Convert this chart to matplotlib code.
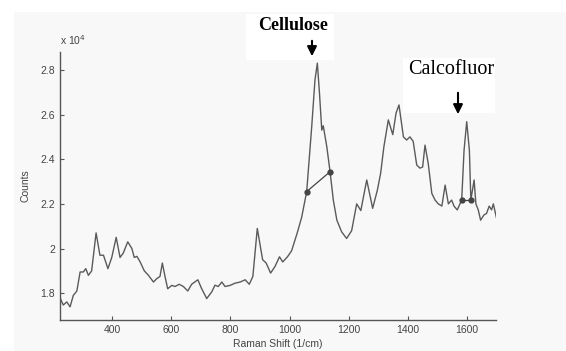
import matplotlib
matplotlib.use("Agg")
import matplotlib.pyplot as plt
from matplotlib.ticker import FuncFormatter

plt.rcParams["font.family"] = ["Liberation Sans", "DejaVu Sans"]

# Raman spectrum (counts in units of 1e4)
shift = [224, 235, 247, 258, 269, 281, 292, 303, 311, 320, 331, 346, 359, 371, 386,
         399, 414, 427, 438, 453, 467, 475, 484, 495, 509, 523, 540, 551, 562, 570,
         579, 588, 602, 613, 627, 641, 656, 669, 690, 703, 720, 737, 748, 759, 771,
         782, 799, 816, 833, 850, 864, 876, 891, 900, 909, 921, 936, 951, 966, 977,
         993, 1007, 1026, 1041, 1058, 1075, 1086, 1094, 1101, 1109, 1114, 1126, 1137,
         1148, 1160, 1176, 1193, 1210, 1227, 1241, 1261, 1281, 1297, 1308, 1319, 1334,
         1349, 1360, 1370, 1385, 1396, 1407, 1418, 1430, 1441, 1450, 1458, 1469, 1481,
         1492, 1503, 1515, 1526, 1537, 1548, 1556, 1567, 1582, 1590, 1599, 1608, 1613,
         1624, 1630, 1638, 1646, 1657, 1666, 1675, 1683, 1689, 1700]
counts = [1.78, 1.747, 1.761, 1.739, 1.79, 1.81, 1.895, 1.895, 1.91, 1.88, 1.90, 2.07,
          1.97, 1.97, 1.91, 1.96, 2.05, 1.96, 1.98, 2.03, 2.00, 1.96, 1.965, 1.94, 1.90,
          1.88, 1.85, 1.865, 1.875, 1.935, 1.875, 1.82, 1.835, 1.83, 1.84, 1.83, 1.81,
          1.84, 1.86, 1.82, 1.776, 1.806, 1.836, 1.83, 1.85, 1.83, 1.835, 1.845, 1.85,
          1.86, 1.84, 1.875, 2.09, 2.02, 1.95, 1.935, 1.89, 1.92, 1.963, 1.94, 1.963,
          1.99, 2.07, 2.14, 2.255, 2.546, 2.755, 2.83, 2.70, 2.53, 2.55, 2.456, 2.344,
          2.217, 2.127, 2.075, 2.045, 2.08, 2.20, 2.17, 2.307, 2.18, 2.262, 2.337, 2.456,
          2.576, 2.51, 2.606, 2.643, 2.50, 2.486, 2.50, 2.48, 2.374, 2.36, 2.365, 2.463,
          2.38, 2.247, 2.217, 2.20, 2.19, 2.284, 2.20, 2.217, 2.19, 2.173, 2.217, 2.44,
          2.568, 2.44, 2.217, 2.307, 2.20, 2.173, 2.127, 2.15, 2.157, 2.19, 2.173, 2.20,
          2.135]

# baseline segments under the two peaks
base_cell_x = [1058, 1137]
base_cell_y = [2.255, 2.344]
base_calc_x = [1582, 1613]
base_calc_y = [2.217, 2.217]

xticks = [400, 600, 800, 1000, 1200, 1400, 1600]
yticks = [1.8, 2.0, 2.2, 2.4, 2.6, 2.8]

fig = plt.figure(figsize=(5.66, 3.51), dpi=100)
fig.patch.set_facecolor("white")
# light grey panel like the matlab window
fig.patches.append(plt.Rectangle((14 / 566, 0), 1, 1 - 12 / 351, transform=fig.transFigure,
                                 facecolor="#f8f8f8", edgecolor="none", zorder=0))

ax = fig.add_axes([60 / 566, 1 - 320 / 351, 436 / 566, 268 / 351])
ax.set_zorder(2)
ax.set_facecolor("none")
ax.plot(shift, counts, color="#5a5a5a", lw=1.0)
ax.plot(base_cell_x, base_cell_y, color="#444444", lw=0.9, marker="o", ms=3.5)
ax.plot(base_calc_x, base_calc_y, color="#444444", lw=0.9, marker="o", ms=3.5)

ax.set_xlim(224, 1698)
ax.set_ylim(1.68, 2.88)
ax.set_xticks(xticks)
ax.set_yticks(yticks)
ax.yaxis.set_major_formatter(FuncFormatter(lambda v, p: "%g" % round(v, 1)))
ax.spines["top"].set_visible(False)
ax.spines["right"].set_visible(False)
for s in ["left", "bottom"]:
    ax.spines[s].set_color("#555555")
    ax.spines[s].set_linewidth(1.0)
ax.tick_params(direction="in", length=3, width=0.8, colors="#555555",
               labelsize=7.5, labelcolor="#444444")
ax.set_xlabel("Raman Shift (1/cm)", fontsize=7.5, color="#444444", labelpad=3)
ax.set_ylabel("Counts", fontsize=7.5, color="#444444", labelpad=7)
ax.text(0.0, 1.02, "x 10$^4$", transform=ax.transAxes, fontsize=7.5, color="#444444",
        ha="left", va="bottom")

# annotation boxes
fig.patches.append(plt.Rectangle((246 / 566, 1 - 60 / 351), 88 / 566, 46 / 351,
                                 transform=fig.transFigure, facecolor="white",
                                 edgecolor="none", zorder=1))
fig.patches.append(plt.Rectangle((403 / 566, 1 - 113 / 351), 92 / 566, 55 / 351,
                                 transform=fig.transFigure, facecolor="white",
                                 edgecolor="none", zorder=1))
fig.text(293 / 566, 1 - 25 / 351, "Cellulose", family="Liberation Serif", fontsize=13,
         fontweight="bold", ha="center", va="center", zorder=3)
fig.text(451 / 566, 1 - 70 / 351, "Calcofluor", family="Liberation Serif", fontsize=14.5,
         ha="center", va="center", zorder=3)
arrow = dict(arrowstyle="-|>", color="black", lw=1.5, mutation_scale=14)
fig.patches.append(matplotlib.patches.FancyArrowPatch((312 / 566, 1 - 38 / 351),
                   (312 / 566, 1 - 59 / 351), transform=fig.transFigure, zorder=3, **arrow))
fig.patches.append(matplotlib.patches.FancyArrowPatch((458 / 566, 1 - 90 / 351),
                   (458 / 566, 1 - 117 / 351), transform=fig.transFigure, zorder=3, **arrow))

fig.savefig("out.png", dpi=100)
